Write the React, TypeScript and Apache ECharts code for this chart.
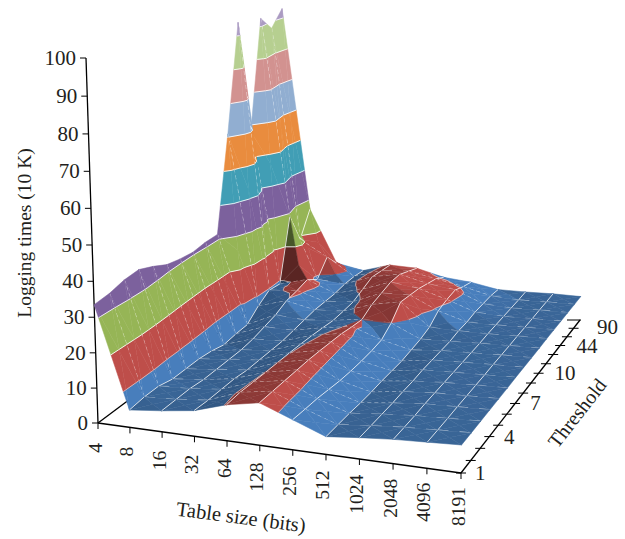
import React, { useEffect, useRef } from "react";
import * as echarts from "echarts";

const sizeLabels = ["4", "8", "16", "32", "64", "128", "256", "512", "1024", "2048", "4096", "8191"];
const thresholdLabels = ["1", "", "", "4", "", "", "7", "", "", "10", "", "", "44", "", "", "90"];
const valueTicks = [0, 10, 20, 30, 40, 50, 60, 70, 80, 90, 100];

// Logging times (10 K), one list per table size, from threshold 1 (front) to 90 (back)
const size4 = [33.5, 34, 35.2, 35.6, 34, 32, 31.2, 30.8, 31.4, 31.5, 61, 94, 58, 92.5, 88, 93];
const size8 = [5, 5.5, 5.5, 4.5, 4.5, 4.5, 4, 3, 3.5, 3.7, 7, 9.5, 9, 29, 19, 27];
const size16 = [6, 6, 6, 5.5, 5.5, 5.5, 5.5, 6, 7, 8, 9.8, 10.5, 11.5, 9, 14, 9.5];
const size32 = [7.3, 7, 7, 7, 6.5, 6.5, 6.5, 6.5, 7, 7.5, 8, 8, 8, 8.5, 8.5, 8];
const size64 = [10.2, 10.5, 10.3, 10.1, 10, 9.9, 9.7, 9.4, 9, 8.5, 8.7, 9, 10.5, 12, 11.5, 11];
const size128 = [12, 12, 12, 12, 12, 11.8, 11.5, 11.2, 10.5, 10, 12, 13, 14, 14, 12.5, 11];
const size256 = [8.5, 8.2, 8, 7.5, 7, 6.8, 6.8, 7, 7.5, 10, 14, 13.5, 13, 12, 11, 9];
const size512 = [5, 5, 5, 4.8, 4.8, 5, 5, 5, 5.5, 6, 7, 9.5, 10.5, 11, 9.5, 8.4];
const size1024 = [6, 6, 6, 6, 6.2, 6.2, 6.5, 6.5, 6.5, 6.5, 7, 7, 7.5, 7.5, 7.5, 7];
const size2048 = [6.8, 6.8, 6.8, 7, 7, 7, 7, 7, 7, 7, 7.2, 7.2, 7.2, 7.2, 7.2, 7.3];
const size4096 = [7.3, 7.3, 7.3, 7.4, 7.4, 7.4, 7.4, 7.5, 7.5, 7.5, 7.6, 7.6, 7.6, 7.7, 7.7, 7.8];
const size8191 = [7.8, 7.8, 7.8, 7.8, 7.8, 7.8, 7.9, 7.9, 7.9, 7.9, 8, 8, 8, 8, 8, 8];
const surface = [size4, size8, size16, size32, size64, size128, size256, size512, size1024, size2048, size4096, size8191];

const bandColors = ["#4a82c2", "#c4504c", "#9bbb59", "#8064a2", "#43a3bb", "#f09040", "#95b3d7", "#d99694", "#bcd594", "#b0a0c8"];

const NU = sizeLabels.length - 1;
const NV = thresholdLabels.length - 1;

// Camera: where the corners of the floor and the top of the value axis fall on the page
const FLOOR = { A: [98, 423], B: [461, 473], C: [580, 320], D: [284, 284] };
const AXIS_TOP = [86, 58];
const R = -0.048;

function makeCamera() {
  const { A, B, C, D } = FLOOR;
  const dx1 = B[0] - C[0], dx2 = D[0] - C[0], sx = A[0] - B[0] + C[0] - D[0];
  const dy1 = B[1] - C[1], dy2 = D[1] - C[1], sy = A[1] - B[1] + C[1] - D[1];
  const det = dx1 * dy2 - dx2 * dy1;
  const g = (sx * dy2 - dx2 * sy) / det;
  const h = (dx1 * sy - sx * dy1) / det;
  const a = B[0] - A[0] + g * B[0], b = D[0] - A[0] + h * D[0], c = A[0];
  const d = B[1] - A[1] + g * B[1], e = D[1] - A[1] + h * D[1], f = A[1];
  const p = AXIS_TOP[0] * (1 + R) - c;
  const q = AXIS_TOP[1] * (1 + R) - f;
  return (u: number, v: number, z: number): number[] => {
    const s = u / NU, t = v / NV, w = z / 100;
    const W = g * s + h * t + 1 + R * w;
    return [(a * s + b * t + c + p * w) / W, (d * s + e * t + f + q * w) / W];
  };
}
const project = makeCamera();

type P = number[]; // u, v, z

function clipBelow(poly: P[], level: number, keepAbove: boolean): P[] {
  const out: P[] = [];
  for (let i = 0; i < poly.length; i++) {
    const a = poly[i], b = poly[(i + 1) % poly.length];
    const ia = keepAbove ? a[2] >= level : a[2] <= level;
    const ib = keepAbove ? b[2] >= level : b[2] <= level;
    if (ia) out.push(a);
    if (ia !== ib) {
      const k = (level - a[2]) / (b[2] - a[2]);
      out.push([a[0] + (b[0] - a[0]) * k, a[1] + (b[1] - a[1]) * k, level]);
    }
  }
  return out;
}

function contourSegment(tri: P[], level: number): P[] | null {
  const pts: P[] = [];
  for (let i = 0; i < 3; i++) {
    const a = tri[i], b = tri[(i + 1) % 3];
    if ((a[2] - level) * (b[2] - level) < 0) {
      const k = (level - a[2]) / (b[2] - a[2]);
      pts.push([a[0] + (b[0] - a[0]) * k, a[1] + (b[1] - a[1]) * k, level]);
    }
  }
  return pts.length === 2 ? pts : null;
}

function shadeOf(tri: P[]): number {
  const [a, b, c] = tri;
  const ux = b[0] - a[0], uy = b[1] - a[1], uz = (b[2] - a[2]) * 0.1;
  const vx = c[0] - a[0], vy = c[1] - a[1], vz = (c[2] - a[2]) * 0.1;
  let nx = uy * vz - uz * vy, ny = uz * vx - ux * vz, nz = ux * vy - uy * vx;
  if (nz < 0) { nx = -nx; ny = -ny; nz = -nz; }
  const len = Math.hypot(nx, ny, nz) || 1;
  nx /= len; ny /= len;
  if (ny < -0.6 && Math.abs(nx) < Math.abs(ny) * 0.7) return 0.46;
  const s = nx + 0.6 * ny;
  if (s >= 0) return Math.min(0.97, 0.8 + s * 1.6);
  return Math.max(0.68, 0.8 + s * 0.5);
}

function tint(hex: string, k: number): string {
  const n = parseInt(hex.slice(1), 16);
  const r = Math.round(((n >> 16) & 255) * k), g = Math.round(((n >> 8) & 255) * k), b = Math.round((n & 255) * k);
  return `rgb(${r},${g},${b})`;
}

const cellData: number[][] = [];
for (let v = NV - 1; v >= 0; v--) for (let u = 0; u < NU; u++) cellData.push([u, v]);

const FONT = '"Liberation Serif"';
const INK = "#231f20";

function renderCell(_: any, api: any) {
  const u = api.value(0), v = api.value(1);
  const xy = (p: P) => api.coord(project(p[0], p[1], p[2]));
  const z = (i: number, j: number) => surface[i][j];
  const c00 = [u, v, z(u, v)], c10 = [u + 1, v, z(u + 1, v)];
  const c01 = [u, v + 1, z(u, v + 1)], c11 = [u + 1, v + 1, z(u + 1, v + 1)];
  const mid = [u + 0.5, v + 0.5, (c00[2] + c10[2] + c01[2] + c11[2]) / 4];
  const tris = [[mid, c01, c11], [mid, c00, c01], [mid, c11, c10], [mid, c10, c00]];
  const children: any[] = [];
  tris.forEach((tri) => {
    const shade = shadeOf(tri);
    bandColors.forEach((col, b) => {
      let poly = clipBelow(tri, b * 10, true);
      if (poly.length) poly = clipBelow(poly, (b + 1) * 10, false);
      if (poly.length < 3) return;
      const fill = tint(col, shade);
      children.push({
        type: "polygon",
        shape: { points: poly.map(xy) },
        style: { fill, stroke: fill, lineWidth: 0.5 },
        silent: true,
      });
    });
  });
  tris.forEach((tri) => {
    for (let b = 1; b < bandColors.length; b++) {
      const seg = contourSegment(tri, b * 10);
      if (!seg) continue;
      const s = xy(seg[0]), e = xy(seg[1]);
      children.push({
        type: "line",
        shape: { x1: s[0], y1: s[1], x2: e[0], y2: e[1] },
        style: { stroke: "#ffffff", lineWidth: 0.9, opacity: b === 1 ? 0.55 : 0.95 },
        silent: true,
      });
    }
  });
  const edge = (p: P, q: P, style: any) => {
    const s = xy(p), e = xy(q);
    children.push({ type: "line", shape: { x1: s[0], y1: s[1], x2: e[0], y2: e[1] }, style: { stroke: "#ffffff", ...style }, silent: true });
  };
  if (v > 0) {
    const flat = Math.abs(c00[2] - c10[2]) < 1.2;
    edge(c00, c10, flat
      ? { lineWidth: 1.1, opacity: 0.8, lineDash: [11, 11] }
      : { lineWidth: 1, opacity: 0.95, lineDash: [4, 3] });
  }
  if (u > 0) edge(c00, c01, { lineWidth: 0.9, opacity: 0.85 });
  return { type: "group", children };
}

function renderFrame(_: any, api: any) {
  const xy = (a: number, b: number, c: number) => api.coord(project(a, b, c));
  const line = (s: number[], e: number[], w = 1.3) => ({
    type: "line",
    shape: { x1: s[0], y1: s[1], x2: e[0], y2: e[1] },
    style: { stroke: "#000000", lineWidth: w },
    silent: true,
  });
  return {
    type: "group",
    children: [
      line(xy(0, 0, 0), xy(0, 0, 100)),
      line(xy(0, 0, 0), xy(NU, 0, 0)),
      line(xy(NU, 0, 0), xy(NU, NV, 0)),
      line(xy(0, 0, 0), xy(0, NV, 0)),
    ],
  };
}

function renderValueTick(_: any, api: any) {
  const val = valueTicks[api.value(0)];
  const pt = api.coord(project(0, 0, val));
  return {
    type: "group",
    children: [
      { type: "line", shape: { x1: pt[0] - 6, y1: pt[1], x2: pt[0], y2: pt[1] }, style: { stroke: "#000", lineWidth: 1 }, silent: true },
      {
        type: "text", x: pt[0] - 10, y: pt[1],
        style: { text: String(val), font: `21px ${FONT}`, fill: INK, align: "right", verticalAlign: "middle" }, silent: true,
      },
    ],
  };
}

function renderSizeTick(_: any, api: any) {
  const i = api.value(0);
  const pt = api.coord(project(i, 0, 0));
  return {
    type: "group",
    children: [
      { type: "line", shape: { x1: pt[0], y1: pt[1], x2: pt[0], y2: pt[1] + 6 }, style: { stroke: "#000", lineWidth: 1 }, silent: true },
      {
        type: "text", x: pt[0] - 3, y: pt[1] + 20 - (i / NU) * 6, rotation: Math.PI / 2,
        style: { text: sizeLabels[i], font: `19.5px ${FONT}`, fill: INK, align: "right", verticalAlign: "middle" }, silent: true,
      },
    ],
  };
}

function renderThresholdTick(_: any, api: any) {
  const i = api.value(0);
  const pt = api.coord(project(NU, i, 0));
  const last = i === NV;
  const children: any[] = [
    { type: "line", shape: { x1: pt[0] - (last ? 13 : 5), y1: pt[1], x2: pt[0] + (last ? 1 : 5), y2: pt[1] }, style: { stroke: "#000", lineWidth: 1 }, silent: true },
  ];
  if (thresholdLabels[i]) {
    children.push({
      type: "text", x: pt[0] + 14 + (i / NV) * 3, y: pt[1] + (last ? 7 : 0),
      style: { text: thresholdLabels[i], font: `21px ${FONT}`, fill: INK, align: "left", verticalAlign: "middle" }, silent: true,
    });
  }
  return { type: "group", children };
}

const titleText = (text: string, x: number, y: number, deg: number, size: number) => ({
  type: "text", x, y, rotation: (deg * Math.PI) / 180, silent: true,
  style: { text, font: `${size}px ${FONT}`, fill: INK, align: "center", verticalAlign: "middle" },
});

export default function App() {
  const ref = useRef<HTMLDivElement>(null);
  useEffect(() => {
    const chart = echarts.init(ref.current!, null, { renderer: "svg" });
    chart.setOption({
      animation: false,
      backgroundColor: "#ffffff",
      grid: { left: 0, right: 0, top: 0, bottom: 0 },
      xAxis: { type: "value", min: 0, max: 625, show: false },
      yAxis: { type: "value", min: 0, max: 539, inverse: true, show: false },
      graphic: [
        titleText("Logging times (10 K)", 24, 233, 90, 19.5),
        titleText("Table size (bits)", 241, 517, -7.5, 20.5),
        titleText("Threshold", 577, 413, 52, 20),
      ],
      series: [
        { type: "custom", coordinateSystem: "cartesian2d", renderItem: renderFrame, data: [[0, 0]], clip: false, silent: true },
        { type: "custom", coordinateSystem: "cartesian2d", renderItem: renderValueTick, data: valueTicks.map((_, i) => [i, 0]), clip: false, silent: true },
        { type: "custom", coordinateSystem: "cartesian2d", renderItem: renderSizeTick, data: sizeLabels.map((_, i) => [i, 0]), clip: false, silent: true },
        { type: "custom", coordinateSystem: "cartesian2d", renderItem: renderThresholdTick, data: thresholdLabels.map((_, i) => [i, 0]), clip: false, silent: true },
        { type: "custom", coordinateSystem: "cartesian2d", renderItem: renderCell, data: cellData, clip: false, silent: true },
      ],
    });
    return () => chart.dispose();
  }, []);
  return <div ref={ref} style={{ position: "fixed", left: 0, top: 0, width: 625, height: 539 }} />;
}
